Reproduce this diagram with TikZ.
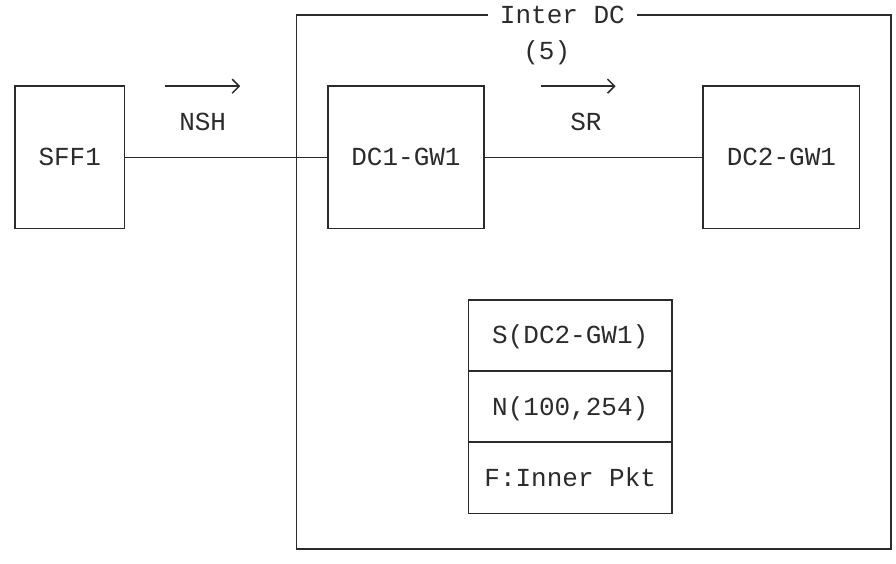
\documentclass[tikz,border=0pt]{standalone}
\usepackage{fontspec}
\newfontfamily\asciifont{Liberation Mono}
\usetikzlibrary{arrows.meta}
\definecolor{ink}{HTML}{2B2B2B}
\begin{document}
\begin{tikzpicture}[x=15.64pt, y=-35.6pt,
  every node/.style={font=\asciifont\fontsize{26}{30}\selectfont, text=ink,
    text height=17pt, text depth=0pt, inner sep=0pt},
  boxnode/.style={draw=ink, line width=1.5pt},
  wire/.style={draw=ink, line width=1.5pt},
  flow/.style={draw=ink, line width=1.5pt, -{Straight Barb[length=7pt,width=14pt]}}]
\path[use as bounding box] (-15pt,15pt) rectangle (881pt,-548pt);
% outer Inter DC box
\node[boxnode, minimum width=594.32pt, minimum height=534pt] (dc) at (37,7.5) {};
\node[fill=white, inner xsep=12pt, inner ysep=2pt] (interdc) at (35,0) {Inter DC};
\node (five) at (34,1) {(5)};
% nodes
\node[boxnode, minimum width=109.48pt, minimum height=142.4pt] (sff1) at (3.5,4) {SFF1};
\node[boxnode, minimum width=156.4pt, minimum height=142.4pt] (gw1) at (25,4) {DC1-GW1};
\node[boxnode, minimum width=156.4pt, minimum height=142.4pt] (gw2) at (49,4) {DC2-GW1};
% packet stack
\node[boxnode, minimum width=203.32pt, minimum height=71.2pt] (seg) at (35.5,9) {S(DC2-GW1)};
\node[boxnode, minimum width=203.32pt, minimum height=71.2pt] (nshhdr) at (35.5,11) {N(100,254)};
\node[boxnode, minimum width=203.32pt, minimum height=71.2pt] (pkt) at (35.5,13) {F:Inner Pkt};
% connectors
\draw[wire] (sff1.east) -- (gw1.west);
\draw[wire] (gw1.east) -- (gw2.west);
% direction arrows and labels
\coordinate (nshs) at (9.6,2);
\coordinate (nshe) at (14.4,2);
\draw[flow] (nshs) -- (nshe);
\node (nshlbl) at (12,3) {NSH};
\coordinate (srs) at (33.6,2);
\coordinate (sre) at (38.4,2);
\draw[flow] (srs) -- (sre);
\node (srlbl) at (36.5,3) {SR};
\end{tikzpicture}
\end{document}
